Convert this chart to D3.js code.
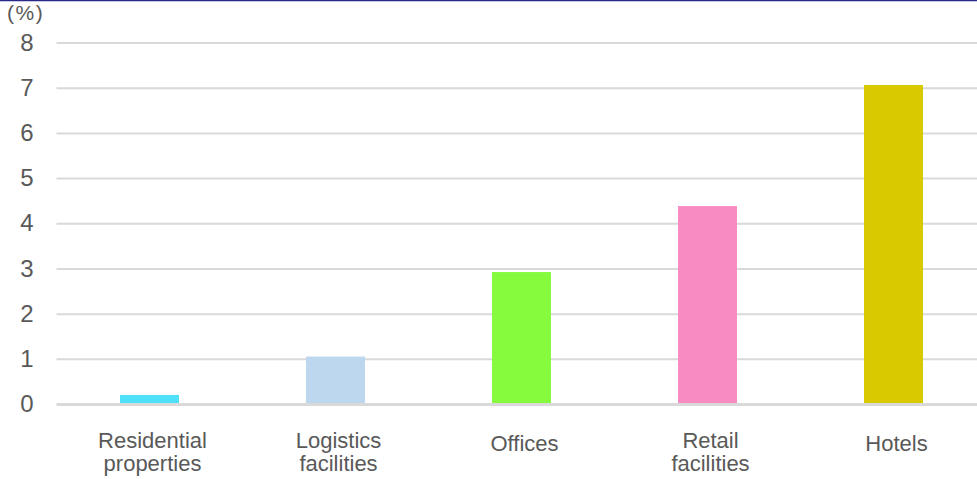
<!DOCTYPE html>
<html>
<head>
<meta charset="utf-8">
<script src="https://cdn.jsdelivr.net/npm/d3@7"></script>
<style>
  html, body { margin: 0; padding: 0; background: #fff; }
  svg { display: block; font-family: "Liberation Sans", Arial, sans-serif; }
</style>
</head>
<body>
<svg id="canvas" width="977" height="479"></svg>
<script>
const categories = [["Residential", "properties"], ["Logistics", "facilities"], ["Offices"], ["Retail", "facilities"], ["Hotels"]];
const values = [0.2, 1.05, 2.92, 4.38, 7.06];
const colors = ["#4fe0fa", "#bdd7ee", "#86fb3e", "#f98bc3", "#d9c900"];
const yTicks = [0, 1, 2, 3, 4, 5, 6, 7, 8];
const unitLabel = "(%)";

const settings = {
  left: 56.5, right: 986.5, top: 42.5, bottom: 404,
};

const svg = d3.select('#canvas');

// top border
svg.append("line")
  .attr("x1", 0).attr("x2", 977)
  .attr("y1", 0.5).attr("y2", 0.5)
  .attr("stroke", "#262a86")
  .attr("stroke-width", 1.5);

const x = d3.scaleBand()
  .domain(d3.range(categories.length))
  .range([settings.left, settings.right])
  .paddingInner(0.683)
  .paddingOuter(0.3415);

const y = d3.scaleLinear()
  .domain([0, 8])
  .range([settings.bottom, settings.top]);

// gridlines + y labels
const yAxis = g => g
  .call(d3.axisLeft(y).tickValues(yTicks).tickSize(-(977 - settings.left)).tickFormat(d3.format("d")))
  .call(g => g.select(".domain").remove())
  .call(g => g.selectAll(".tick line")
    .attr("stroke", "#d9d9d9")
    .attr("stroke-width", d => d === 0 ? 3 : 2))
  .call(g => g.selectAll(".tick text")
    .attr("x", -23)
    .attr("fill", "#595959")
    .style("font-family", "'Liberation Sans', Arial, sans-serif")
    .style("font-size", "24px"));

const bars = svg.append("g").attr("class", "bars");
bars.selectAll("rect")
  .data(values)
  .join("rect")
  .attr("x", (d, i) => x(i))
  .attr("y", d => y(d))
  .attr("width", x.bandwidth())
  .attr("height", d => y(0) - y(d) - 1)
  .attr("fill", (d, i) => colors[i]);

svg.insert("g", ".bars")
  .attr("transform", `translate(${settings.left},0)`)
  .call(yAxis);

// category labels
svg.append("g")
  .selectAll("text")
  .data(categories)
  .join("text")
  .attr("x", (d, i) => x(i) + x.bandwidth() / 2 + 3)
  .attr("y", d => d.length > 1 ? 448 : 451)
  .attr("text-anchor", "middle")
  .attr("fill", "#595959")
  .style("font-size", "22px")
  .selectAll("tspan")
  .data(d => d)
  .join("tspan")
  .attr("x", function () { return this.parentNode.getAttribute("x"); })
  .attr("dy", (d, i) => i === 0 ? 0 : 23)
  .text(d => d);

svg.append("text")
  .attr("x", 7)
  .attr("y", 20)
  .attr("fill", "#595959")
  .style("font-size", "21px")
  .style("letter-spacing", "1.5px")
  .text(unitLabel);
</script>
</body>
</html>
